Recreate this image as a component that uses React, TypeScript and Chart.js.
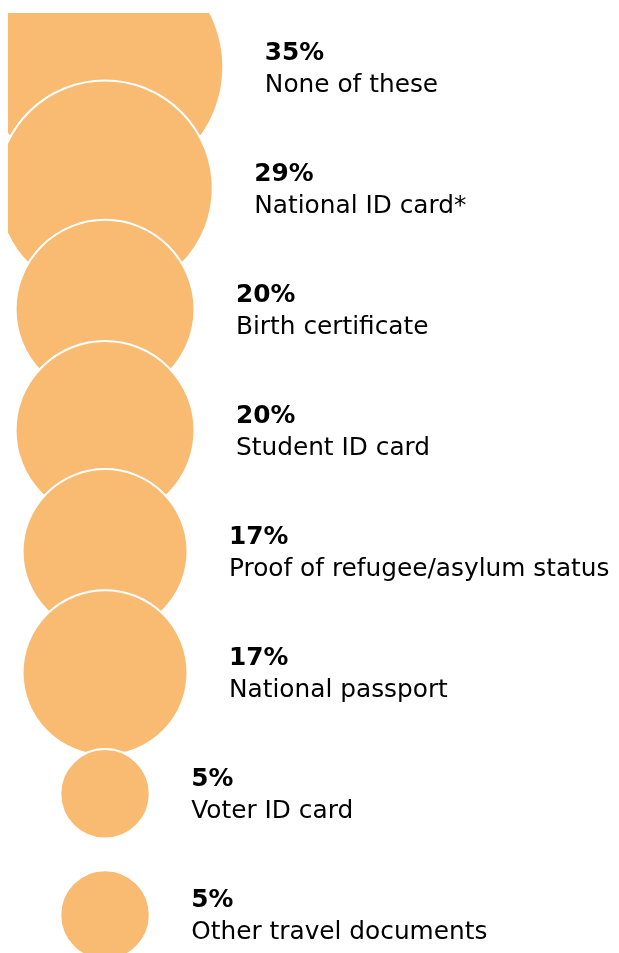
import React, { useEffect, useRef } from "react";
import { Chart, registerables } from "chart.js";

Chart.register(...registerables);

const categories = [
  "None of these",
  "National ID card*",
  "Birth certificate",
  "Student ID card",
  "Proof of refugee/asylum status",
  "National passport",
  "Voter ID card",
  "Other travel documents",
];
const values = [35, 29, 20, 20, 17, 17, 5, 5];
const valueLabels = ["35%", "29%", "20%", "20%", "17%", "17%", "5%", "5%"];

const BUBBLE_COLOR = "#F9BB72";
const TEXT_COLOR = "#000000";
const FONT_FAMILY = "'DejaVu Sans', sans-serif";

const labelPlugin = {
  id: "bubbleLabels",
  afterDatasetsDraw(chart: any) {
    const ctx = chart.ctx;
    const meta = chart.getDatasetMeta(0);
    ctx.save();
    ctx.fillStyle = TEXT_COLOR;
    ctx.textAlign = "left";
    ctx.textBaseline = "alphabetic";
    meta.data.forEach((el: any, i: number) => {
      const r = el.options.radius;
      const x = el.x + r + 41.5;
      ctx.font = `bold 24.8px ${FONT_FAMILY}`;
      ctx.fillText(valueLabels[i], x, el.y - 7.5);
      ctx.font = `24.8px ${FONT_FAMILY}`;
      ctx.fillText(categories[i], x, el.y + 24.5);
    });
    ctx.restore();
  },
};

export default function App() {
  const canvasRef = useRef<HTMLCanvasElement | null>(null);

  useEffect(() => {
    if (!canvasRef.current) return;
    const data = values.map((v, i) => ({ x: 0, y: i, r: 20 * Math.sqrt(v) }));
    const chart = new Chart(canvasRef.current, {
      type: "bubble",
      data: {
        labels: categories,
        datasets: [
          {
            data,
            backgroundColor: BUBBLE_COLOR,
            borderColor: "#ffffff",
            borderWidth: 2,
            hoverBorderWidth: 2,
            clip: 0,
          } as any,
        ],
      },
      options: {
        animation: false,
        responsive: false,
        maintainAspectRatio: false,
        layout: { autoPadding: false, padding: { top: 5, left: 0, right: 0, bottom: 0 } },
        plugins: {
          legend: { display: false },
          tooltip: { enabled: false },
        },
        scales: {
          x: { type: "linear", display: false, min: -1, max: 5.215 },
          y: { type: "linear", display: false, min: -0.4458, max: 7.3138, reverse: true },
        },
      },
      plugins: [labelPlugin],
    });
    return () => chart.destroy();
  }, []);

  return (
    <div style={{ width: 603, height: 945 }}>
      <canvas ref={canvasRef} width={603} height={945} style={{ display: "block" }} />
    </div>
  );
}
